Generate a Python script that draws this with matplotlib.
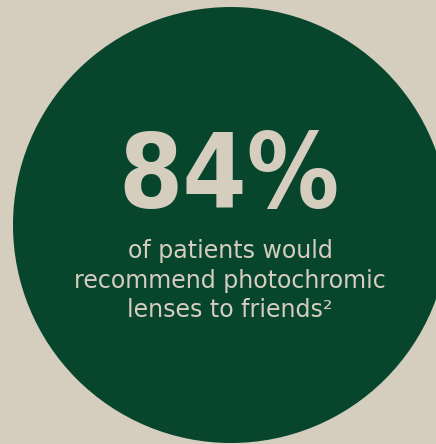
import matplotlib
matplotlib.use("Agg")
import matplotlib.pyplot as plt
from matplotlib.patches import Circle

# content
stat_value = "84%"
caption_lines = ["of patients would", "recommend photochromic", "lenses to friends\u00b2"]

bg_color = "#d5cdbe"
green = "#07452d"

fig = plt.figure(figsize=(4.36, 4.44), dpi=100)
fig.patch.set_facecolor(bg_color)
ax = fig.add_axes([0, 0, 1, 1])
ax.set_xlim(0, 436)
ax.set_ylim(444, 0)
ax.set_aspect("equal")
ax.axis("off")

ax.add_patch(Circle((231, 225), 218, facecolor=green, edgecolor="none"))

ax.text(229, 208, stat_value, ha="center", va="baseline", color=bg_color,
        fontsize=74, fontweight="bold", fontstretch="condensed", family="DejaVu Sans")

baselines = [258, 288, 317]
for line, yb in zip(caption_lines, baselines):
    ax.text(230, yb, line, ha="center", va="baseline", color=bg_color,
            fontsize=17.1, fontstretch="normal", family="DejaVu Sans")

fig.savefig("out.png", dpi=100, facecolor=bg_color)
